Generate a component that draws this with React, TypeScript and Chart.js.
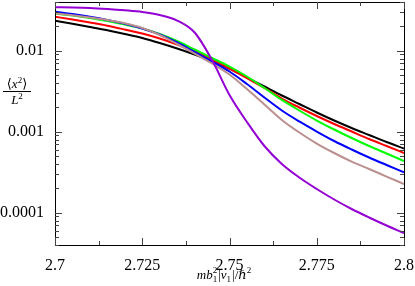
import React, { useEffect, useRef } from "react";
import { Chart, registerables } from "chart.js";

Chart.register(...registerables);

const xValues = [2.7, 2.705, 2.71, 2.715, 2.72, 2.725, 2.73, 2.735, 2.74, 2.745, 2.75, 2.755, 2.76, 2.765, 2.77, 2.775, 2.78, 2.785, 2.79, 2.795, 2.8];

const blackSeries = [0.0235, 0.02152, 0.01965, 0.01789, 0.0161, 0.01437, 0.01247, 0.01066, 0.00899, 0.00747, 0.00604, 0.004676, 0.003621, 0.002803, 0.002202, 0.001729, 0.001377, 0.001113, 0.000912, 0.000747, 0.000621];
const redSeries = [0.02633, 0.02432, 0.02233, 0.02039, 0.0183, 0.01633, 0.01417, 0.01195, 0.00979, 0.0078, 0.00604, 0.00461, 0.00347, 0.002574, 0.001993, 0.001565, 0.001247, 0.001007, 0.000814, 0.000667, 0.000547];
const greenSeries = [0.02884, 0.02724, 0.02538, 0.0233, 0.02109, 0.01883, 0.0161, 0.0132, 0.01036, 0.00814, 0.00639, 0.004811, 0.00347, 0.00247, 0.00183, 0.001377, 0.001066, 0.000838, 0.000667, 0.000539, 0.000436];
const blueSeries = [0.03036, 0.02843, 0.02626, 0.02397, 0.02158, 0.01883, 0.01588, 0.01265, 0.00966, 0.00737, 0.00555, 0.003888, 0.002649, 0.00183, 0.00134, 0.001007, 0.000769, 0.000604, 0.000481, 0.000389, 0.000316];
const tanSeries = [0.02901, 0.0274, 0.02574, 0.02397, 0.02183, 0.0191, 0.01565, 0.01212, 0.00925, 0.00696, 0.00509, 0.00337, 0.00217, 0.001397, 0.000979, 0.000716, 0.000547, 0.000429, 0.000347, 0.00028, 0.000226];
const purpleSeries = [0.0344, 0.0342, 0.03372, 0.03277, 0.03158, 0.0301, 0.02763, 0.0236, 0.0168, 0.00767, 0.00284, 0.00132, 0.000667, 0.0004, 0.0002724, 0.0001965, 0.0001458, 0.0001113, 0.0000874, 0.0000696, 0.0000562];

const xTickValues = [2.7, 2.725, 2.75, 2.775, 2.8];
const xTickLabels = ["2.7", "2.725", "2.75", "2.775", "2.8"];
const xMinorTicks = [2.7125, 2.7375, 2.7625, 2.7875];
const yTickValues = [0.0001, 0.001, 0.01];
const yTickLabels = ["0.0001", "0.001", "0.01"];
const yDecades = [0.00001, 0.0001, 0.001, 0.01];
const yMinorMultipliers = [2, 3, 4, 5, 6, 7, 8, 9];

const SERIF = "'Liberation Serif', 'DejaVu Serif', serif";

const framePlugin = {
  id: "framePlugin",
  afterDatasetsDraw(chart: any) {
    const { ctx, chartArea, scales } = chart;
    const { left, right, top, bottom } = chartArea;
    const xs = scales.x;
    const ys = scales.y;
    ctx.save();
    ctx.strokeStyle = "#000";
    ctx.lineWidth = 1;
    ctx.strokeRect(Math.round(left) + 0.5, Math.round(top) + 0.5, Math.round(right - left), Math.round(bottom - top));

    ctx.strokeStyle = "#444";
    const line = (x1: number, y1: number, x2: number, y2: number) => {
      ctx.beginPath();
      ctx.moveTo(x1, y1);
      ctx.lineTo(x2, y2);
      ctx.stroke();
    };
    xTickValues.forEach((v) => {
      const px = Math.round(xs.getPixelForValue(v)) + 0.5;
      line(px, bottom, px, bottom - 7);
      line(px, top, px, top + 7);
    });
    xMinorTicks.forEach((v) => {
      const px = Math.round(xs.getPixelForValue(v)) + 0.5;
      line(px, bottom, px, bottom - 4);
      line(px, top, px, top + 4);
    });
    const yMin = ys.min;
    const yMax = ys.max;
    yDecades.forEach((d) => {
      if (d >= yMin && d <= yMax) {
        const py = Math.round(ys.getPixelForValue(d)) + 0.5;
        line(left, py, left + 7, py);
        line(right, py, right - 7, py);
      }
      yMinorMultipliers.forEach((m) => {
        const v = d * m;
        if (v >= yMin && v <= yMax) {
          const py = Math.round(ys.getPixelForValue(v)) + 0.5;
          line(left, py, left + 4, py);
          line(right, py, right - 4, py);
        }
      });
    });

    ctx.fillStyle = "#000";
    ctx.textBaseline = "alphabetic";
    const big = `13px ${SERIF}`;
    const bigI = `italic 13px ${SERIF}`;
    const small = `9px ${SERIF}`;
    const drawRun = (parts: { t: string; f: string; dy: number }[], cx: number, by: number) => {
      let w = 0;
      parts.forEach((p) => {
        ctx.font = p.f;
        w += ctx.measureText(p.t).width;
      });
      let x = cx - w / 2;
      parts.forEach((p) => {
        ctx.font = p.f;
        ctx.fillText(p.t, x, by + p.dy);
        x += ctx.measureText(p.t).width;
      });
    };
    // y title: <x^2> over L^2
    drawRun(
      [
        { t: "\u27E8", f: big, dy: 0 },
        { t: "x", f: bigI, dy: 0 },
        { t: "2", f: small, dy: -5 },
        { t: "\u27E9", f: big, dy: 0 },
      ],
      17,
      88
    );
    ctx.beginPath();
    ctx.moveTo(3, 91.5);
    ctx.lineTo(31, 91.5);
    ctx.strokeStyle = "#000";
    ctx.stroke();
    drawRun(
      [
        { t: "L", f: bigI, dy: 0 },
        { t: "2", f: small, dy: -5 },
      ],
      17,
      104
    );

    // x title: m b_1^2 |v_1| / hbar^2
    const cx = (left + right) / 2 - 5;
    const by = 279;
    const parts: { t: string; f: string; dy: number; stack?: string }[] = [
      { t: "mb", f: bigI, dy: 0 },
      { t: "1", f: small, dy: 3, stack: "2" },
      { t: "|", f: big, dy: 0 },
      { t: "v", f: bigI, dy: 0 },
      { t: "1", f: small, dy: 3 },
      { t: "|/", f: big, dy: 0 },
      { t: "\u210F", f: bigI, dy: 0 },
      { t: "2", f: small, dy: -6 },
    ];
    let w = 0;
    parts.forEach((p) => {
      ctx.font = p.f;
      w += ctx.measureText(p.t).width + (p.f === small ? 1 : 0);
    });
    let x = cx - w / 2;
    parts.forEach((p) => {
      ctx.font = p.f;
      ctx.fillText(p.t, x, by + p.dy);
      if (p.stack) ctx.fillText(p.stack, x, by - 6);
      x += ctx.measureText(p.t).width + (p.f === small ? 1 : 0);
    });
    ctx.restore();
  },
};

export default function App() {
  const ref = useRef<HTMLCanvasElement>(null);
  useEffect(() => {
    document.body.style.margin = "0";
    const mk = (s: number[]) => xValues.map((x, i) => ({ x, y: s[i] }));
    const ds = (label: string, s: number[], color: string) => ({
      label,
      data: mk(s),
      borderColor: color,
      backgroundColor: color,
      borderWidth: 2,
      pointRadius: 0,
      fill: false,
      cubicInterpolationMode: "monotone" as const,
    });
    const chart = new Chart(ref.current!, {
      type: "line",
      data: {
        datasets: [
          ds("purple", purpleSeries, "#9400d3"),
          ds("tan", tanSeries, "#bc8f8f"),
          ds("blue", blueSeries, "#0000ff"),
          ds("green", greenSeries, "#00ff00"),
          ds("red", redSeries, "#ff0000"),
          ds("black", blackSeries, "#000000"),
        ],
      },
      options: {
        animation: false,
        responsive: false,
        devicePixelRatio: 1,
        layout: { padding: { top: 2, right: 11, left: 0, bottom: 0 } },
        plugins: { legend: { display: false }, tooltip: { enabled: false } },
        scales: {
          x: {
            type: "linear",
            min: 2.7,
            max: 2.8,
            grid: { display: false },
            border: { display: false },
            afterBuildTicks: (s: any) => {
              s.ticks = xTickValues.map((v) => ({ value: v }));
            },
            afterFit: (s: any) => {
              s.height = 41;
              s.paddingLeft = 0;
              s.paddingRight = 0;
            },
            ticks: {
              autoSkip: false,
              maxRotation: 0,
              padding: 3,
              color: "#000",
              font: { family: SERIF, size: 16 },
              callback: (v: any) => {
                const i = xTickValues.findIndex((t) => Math.abs(t - Number(v)) < 1e-9);
                return i >= 0 ? xTickLabels[i] : "";
              },
            },
          },
          y: {
            type: "logarithmic",
            min: 0.00004,
            max: 0.04,
            grid: { display: false },
            border: { display: false },
            afterBuildTicks: (s: any) => {
              s.ticks = yTickValues.map((v) => ({ value: v }));
            },
            afterFit: (s: any) => {
              s.width = 55;
              s.paddingTop = 0;
              s.paddingBottom = 0;
            },
            ticks: {
              autoSkip: false,
              padding: 3,
              color: "#000",
              font: { family: SERIF, size: 16 },
              callback: (v: any) => {
                const i = yTickValues.findIndex((t) => Math.abs(t - Number(v)) / t < 1e-6);
                return i >= 0 ? yTickLabels[i] : "";
              },
            },
          },
        },
      },
      plugins: [framePlugin],
    });
    return () => chart.destroy();
  }, []);
  return (
    <div style={{ width: 415, height: 286, background: "#fff" }}>
      <canvas ref={ref} width={415} height={286} style={{ display: "block" }} />
    </div>
  );
}
